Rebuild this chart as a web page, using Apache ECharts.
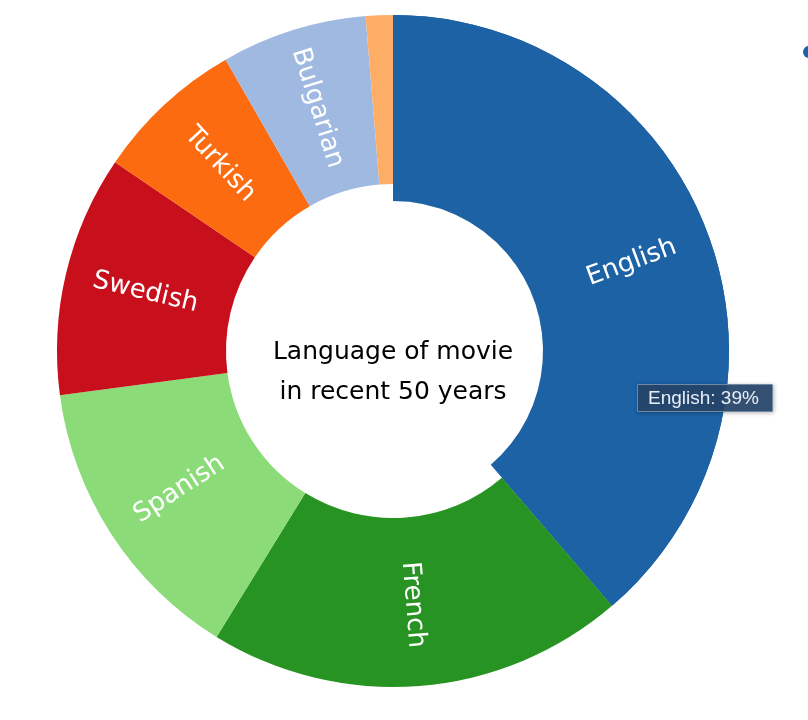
<!DOCTYPE html>
<html><head><meta charset="utf-8">
<script src="https://cdn.jsdelivr.net/npm/echarts@6/dist/echarts.min.js"></script>
<style>html,body{margin:0;padding:0;background:#fff}#c{width:808px;height:720px}</style>
</head><body><div id="c"></div>
<script>
var languages = ['English','French','Spanish','Swedish','Turkish','Bulgarian','Other'];
var shares = [38.7, 20.1, 14.1, 11.6, 7.2, 7.0, 1.3];
var colors = ['#1c62a5','#279322','#8cdb79','#c8101d','#fc6b10','#9fb9e1','#fead66'];
var centerText = 'Language of movie\nin recent 50 years';

var chart = echarts.init(document.getElementById('c'));
var mainData = languages.map(function(n,i){
  return {name:n, value:shares[i], itemStyle:{color:colors[i]},
    label:{show: n !== 'Other'}};
});
// highlighted slice drawn thicker toward the hole
var hiData = languages.map(function(n,i){
  return {name:n, value:shares[i], itemStyle:{color: i === 0 ? colors[i] : 'rgba(0,0,0,0)'}};
});
chart.setOption({
  animation:false,
  tooltip:{trigger:'item', triggerOn:'none', alwaysShowContent:true,
    position:[637,384],
    backgroundColor:'rgba(38,68,104,0.94)', borderColor:'#7189a3', borderWidth:1,
    padding:[3,13,3,10], extraCssText:'border-radius:1px;box-shadow:1px 1px 4px rgba(0,0,0,0.3);',
    textStyle:{color:'#e8eef5', fontSize:19, lineHeight:20, fontFamily:'Liberation Sans'},
    formatter:function(p){return p.name+': '+Math.round(p.percent)+'%';}},
  graphic:[
    {type:'circle', shape:{cx:809, cy:52, r:6}, style:{fill:'#1c62a5'}},
    {type:'text', x:393, y:372, style:{text:centerText,
      fill:'#000', font:'25px "DejaVu Sans"', lineHeight:40, align:'center', verticalAlign:'middle'}}
  ],
  series:[{
    type:'pie', center:[393,351], radius:[150,336], startAngle:90, clockwise:true,
    data:hiData, itemStyle:{borderWidth:0}, label:{show:false}, labelLine:{show:false},
    emphasis:{disabled:true}, silent:true, z:1
  },{
    type:'pie', center:[393,351], radius:[167,336], startAngle:90, clockwise:true,
    data:mainData, itemStyle:{borderWidth:0},
    label:{position:'inside', rotate:'radial', color:'#fff', fontSize:26, fontFamily:'DejaVu Sans'},
    labelLine:{show:false}, emphasis:{disabled:true}, z:2
  }]
});
chart.dispatchAction({type:'showTip', seriesIndex:1, dataIndex:0});
</script></body></html>
